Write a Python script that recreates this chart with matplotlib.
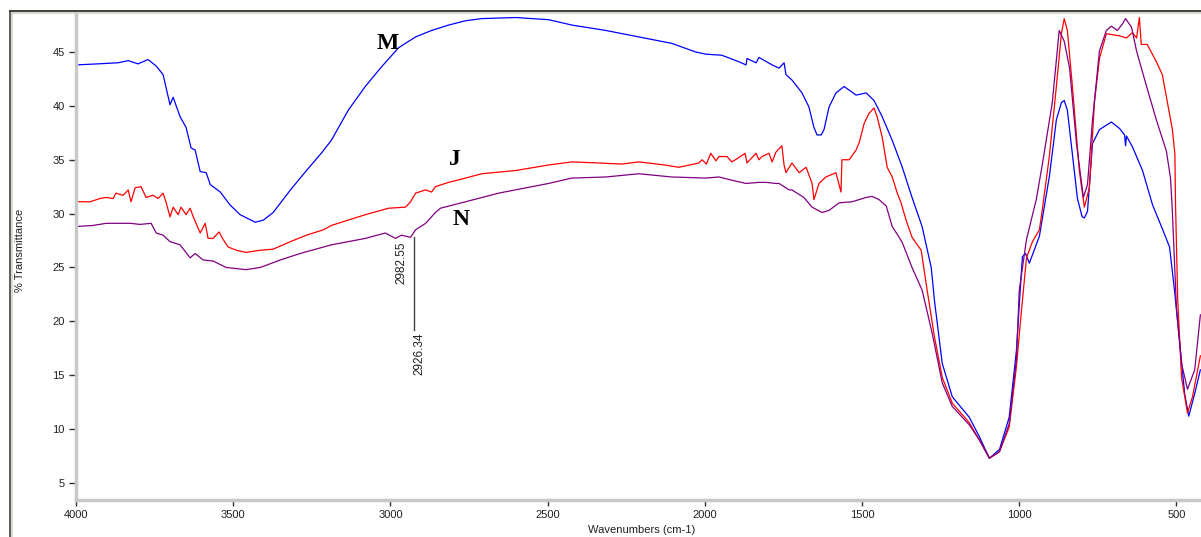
import matplotlib
matplotlib.use("Agg")
import matplotlib.pyplot as plt
from matplotlib.lines import Line2D
from matplotlib.ticker import MultipleLocator

# ---- data (wavenumber cm-1, %T) ----
m_wn = [4000, 3930, 3866, 3834, 3803, 3771, 3745, 3723, 3701, 3691, 3669, 3650, 3634, 3621,
        3605, 3586, 3573, 3541, 3510, 3478, 3430, 3404, 3373, 3318, 3267, 3220, 3188, 3134,
        3080, 3029, 2974, 2920, 2869, 2815, 2761, 2710, 2602, 2497, 2423, 2315, 2210, 2105,
        2029, 1997, 1946, 1892, 1869, 1866, 1837, 1828, 1786, 1764, 1748, 1742, 1723, 1691,
        1669, 1653, 1643, 1630, 1621, 1605, 1583, 1557, 1519, 1487, 1462, 1436, 1404, 1372,
        1341, 1309, 1280, 1270, 1245, 1213, 1159, 1127, 1095, 1063, 1032, 1009, 1000, 990,
        980, 968, 950, 936, 904, 882, 866, 857, 847, 831, 815, 800, 793, 783, 767, 745, 707,
        681, 665, 662, 659, 640, 608, 576, 545, 522, 506, 490, 474, 461, 442, 424]
m_t = [43.8, 43.9, 44.0, 44.2, 43.9, 44.3, 43.7, 42.9, 40.1, 40.8, 39.0, 38.0, 36.1, 35.9,
       33.9, 33.8, 32.7, 32.0, 30.8, 29.9, 29.2, 29.4, 30.1, 32.2, 34.0, 35.6, 36.8, 39.6,
       41.8, 43.6, 45.4, 46.4, 47.0, 47.5, 47.9, 48.1, 48.2, 48.0, 47.5, 47.0, 46.4, 45.8,
       45.0, 44.8, 44.7, 44.1, 43.8, 44.4, 44.0, 44.5, 43.8, 43.5, 44.0, 42.9, 42.4, 41.2,
       39.9, 38.0, 37.3, 37.3, 37.8, 39.9, 41.2, 41.8, 41.0, 41.2, 40.5, 39.0, 36.8, 34.3,
       31.5, 28.8, 25.0, 22.0, 16.1, 13.0, 11.1, 9.3, 7.3, 8.1, 11.1, 17.3, 21.5, 26.0,
       26.3, 25.4, 26.8, 27.9, 33.5, 38.7, 40.3, 40.5, 39.6, 35.5, 31.4, 29.7, 29.6, 30.2,
       36.5, 37.8, 38.5, 37.9, 37.3, 36.3, 37.2, 36.2, 34.0, 30.8, 28.6, 26.9, 22.8, 18.1,
       13.3, 11.2, 13.3, 15.5]

j_wn = [4000, 3955, 3924, 3904, 3882, 3873, 3850, 3834, 3825, 3812, 3793, 3777, 3755, 3739,
        3723, 3713, 3701, 3691, 3675, 3666, 3650, 3637, 3627, 3605, 3589, 3580, 3564, 3545,
        3532, 3516, 3490, 3459, 3414, 3373, 3318, 3267, 3213, 3188, 3080, 3006, 2952, 2936,
        2920, 2888, 2869, 2857, 2815, 2761, 2710, 2602, 2500, 2423, 2337, 2264, 2210, 2124,
        2083, 2051, 2019, 2009, 1995, 1981, 1965, 1955, 1930, 1914, 1892, 1872, 1866, 1837,
        1828, 1818, 1796, 1786, 1774, 1755, 1748, 1742, 1723, 1700, 1678, 1659, 1653, 1637,
        1615, 1583, 1567, 1564, 1541, 1519, 1509, 1493, 1478, 1462, 1452, 1436, 1420, 1404,
        1388, 1376, 1360, 1341, 1312, 1293, 1270, 1245, 1213, 1159, 1127, 1095, 1063, 1032,
        1009, 993, 977, 958, 936, 927, 904, 882, 866, 857, 847, 831, 809, 793, 777, 761, 745,
        723, 681, 659, 640, 627, 618, 612, 593, 564, 545, 513, 505, 503, 496, 484, 465, 449,
        424]
j_t = [31.1, 31.1, 31.4, 31.5, 31.4, 31.9, 31.7, 32.2, 31.1, 32.4, 32.5, 31.5, 31.7, 31.4,
       31.9, 31.0, 29.7, 30.6, 29.9, 30.6, 29.9, 30.5, 29.7, 28.2, 29.1, 27.7, 27.7, 28.3,
       27.6, 26.9, 26.6, 26.4, 26.6, 26.7, 27.4, 28.0, 28.5, 28.9, 29.9, 30.5, 30.6, 31.1,
       31.9, 32.2, 32.0, 32.5, 32.9, 33.3, 33.7, 34.0, 34.5, 34.8, 34.7, 34.6, 34.8, 34.5,
       34.3, 34.5, 34.7, 35.0, 34.6, 35.6, 34.9, 35.3, 35.3, 34.8, 35.2, 35.6, 34.7, 35.6,
       35.0, 35.3, 35.6, 34.8, 35.7, 36.3, 34.5, 33.8, 34.7, 33.8, 34.3, 32.8, 31.3, 32.8,
       33.4, 33.8, 32.0, 35.0, 35.0, 35.9, 36.6, 38.4, 39.3, 39.8, 39.0, 37.1, 34.3, 33.4,
       31.9, 31.0, 29.4, 27.8, 26.6, 22.9, 18.6, 14.8, 12.4, 10.6, 9.0, 7.3, 7.9, 10.2,
       15.8, 21.0, 25.9, 27.4, 28.5, 30.3, 35.4, 41.8, 46.7, 48.1, 47.0, 41.8, 34.0, 30.6,
       32.4, 40.3, 44.4, 46.7, 46.5, 46.3, 46.8, 46.3, 48.2, 45.7, 45.7, 44.1, 42.9, 37.8,
       35.5, 30.8, 22.0, 14.8, 11.5, 13.0, 16.8]

n_wn = [4000, 3946, 3904, 3860, 3828, 3796, 3761, 3745, 3723, 3701, 3669, 3637, 3621, 3596,
        3564, 3522, 3459, 3414, 3350, 3287, 3213, 3188, 3080, 3016, 2984, 2965, 2936, 2920,
        2888, 2857, 2841, 2761, 2656, 2497, 2423, 2315, 2210, 2105, 1997, 1955, 1914, 1869,
        1828, 1806, 1774, 1764, 1732, 1723, 1685, 1659, 1627, 1605, 1573, 1532, 1487, 1468,
        1446, 1423, 1404, 1382, 1372, 1341, 1309, 1277, 1245, 1213, 1159, 1127, 1095, 1063,
        1032, 1009, 1000, 977, 946, 927, 895, 873, 857, 840, 818, 796, 783, 767, 745, 723,
        707, 688, 672, 662, 643, 627, 595, 564, 532, 519, 514, 500, 484, 465, 442, 424]
n_t = [28.8, 28.9, 29.1, 29.1, 29.1, 29.0, 29.1, 28.2, 28.0, 27.4, 27.1, 25.9, 26.3, 25.7,
       25.6, 25.0, 24.8, 25.0, 25.7, 26.3, 26.9, 27.1, 27.7, 28.2, 27.7, 28.0, 27.8, 28.5,
       29.1, 30.1, 30.5, 31.1, 31.9, 32.8, 33.3, 33.4, 33.7, 33.4, 33.3, 33.4, 33.1, 32.8,
       32.9, 32.9, 32.8, 32.8, 32.2, 32.2, 31.5, 30.6, 30.1, 30.3, 31.0, 31.1, 31.5, 31.6,
       31.3, 30.7, 28.8, 27.8, 27.3, 25.0, 22.9, 18.9, 14.3, 12.1, 10.4, 9.0, 7.3, 7.9,
       10.5, 16.5, 22.9, 27.6, 31.3, 34.5, 40.3, 47.0, 46.0, 43.5, 36.5, 31.5, 32.7, 38.7,
       45.1, 47.0, 47.4, 47.0, 47.6, 48.1, 47.3, 45.1, 41.8, 38.7, 35.8, 33.3, 30.8, 21.2,
       16.1, 13.7, 15.5, 20.6]

peak_labels = ["2982.55", "2926.34"]
peak_wn = [2982.55, 2926.34]
series_names = ["M", "J", "N"]
name_pos_wn = [3008, 2795, 2776]
name_pos_t = [45.8, 35.0, 29.5]

# ---- figure ----
W, H = 1201, 537
fig = plt.figure(figsize=(W / 100, H / 100), dpi=100)
fig.patch.set_facecolor("white")
ax = fig.add_axes([76 / W, 37 / H, 1 - 76 / W, (500 - 13) / H])

ax.plot(m_wn, m_t, color="#0000ff", lw=0.9)
ax.plot(j_wn, j_t, color="#ff0000", lw=0.9)
ax.plot(n_wn, n_t, color="#800080", lw=0.9)

ax.set_xlim(4000, 422)
ax.set_ylim(3.42, 48.62)

# spines
for s in ["top", "right"]:
    ax.spines[s].set_visible(False)
for s in ["left", "bottom"]:
    ax.spines[s].set_color("#c8c8c8")
    ax.spines[s].set_linewidth(2.5)

ax.xaxis.set_major_locator(MultipleLocator(500))
ax.xaxis.set_minor_locator(MultipleLocator(100))
ax.yaxis.set_major_locator(MultipleLocator(5))
ax.yaxis.set_minor_locator(MultipleLocator(1))
ax.tick_params(which="major", direction="out", length=4, width=1, color="#303030",
               labelsize=8, labelcolor="#202020", pad=3)
ax.tick_params(which="minor", direction="inout", length=2, width=1, color="#303030")
ax.tick_params(axis="y", which="major", length=5)
for lab in ax.get_xticklabels() + ax.get_yticklabels():
    lab.set_fontfamily("Liberation Sans")

# annotation for peaks
y_peak_top = 27.8
ax.plot([peak_wn[1], peak_wn[1]], [y_peak_top, 19.2], color="#404040", lw=1)
ax.text(peak_wn[0], 27.4, peak_labels[0], rotation=90, ha="left", va="top",
        fontsize=8.5, family="Liberation Sans", color="#202020")
ax.text(peak_wn[1], 19.0, peak_labels[1], rotation=90, ha="left", va="top",
        fontsize=8.5, family="Liberation Sans", color="#202020")

# series letters
for name, xw, yt in zip(series_names, name_pos_wn, name_pos_t):
    ax.text(xw, yt, name, ha="center", va="center", fontsize=17, fontweight="bold",
            family="Liberation Serif", color="black")

# axis labels
fig.text(20 / W, 1 - 250 / H, "% Transmittance", rotation=90, ha="center", va="center",
         fontsize=8, family="Liberation Sans", color="#202020")
fig.text(642 / W, 1 - 530 / H, "Wavenumbers (cm-1)", ha="center", va="center",
         fontsize=8, family="Liberation Sans", color="#202020")

# outer window frame
fx = 10 / W
fy = 1 - 11 / H
fig.add_artist(Line2D([fx, fx], [0, fy], transform=fig.transFigure, color="#505050", lw=1.3))
fig.add_artist(Line2D([fx, 1], [fy, fy], transform=fig.transFigure, color="#303030", lw=1.3))
fx2 = 11.8 / W
fy2 = 1 - 12.8 / H
fig.add_artist(Line2D([fx2, fx2], [0, fy2], transform=fig.transFigure, color="#d4d0c8", lw=1.2))
fig.add_artist(Line2D([fx2, 1], [fy2, fy2], transform=fig.transFigure, color="#d4d0c8", lw=1.2))

fig.savefig("out.png", dpi=100)
